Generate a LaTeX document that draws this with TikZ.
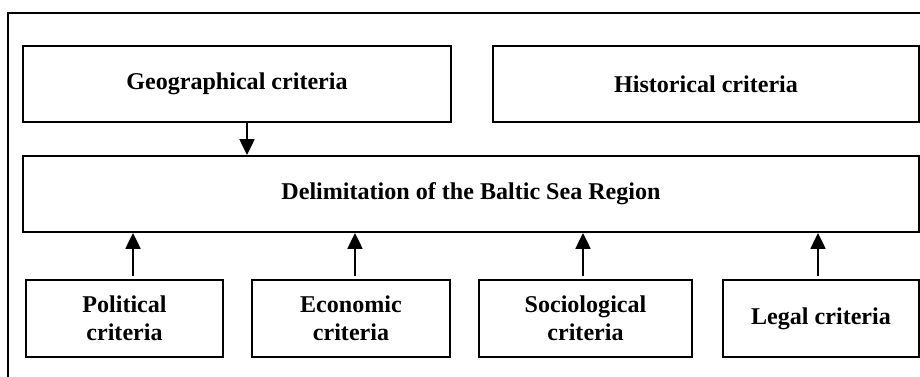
\documentclass[tikz,border=0pt]{standalone}
\usepackage{fontspec}
\setmainfont{Liberation Serif}
\usepackage{tikz}
\usetikzlibrary{arrows.meta}

\tikzset{
  crit/.style={draw, line width=1.1pt, inner sep=0pt, align=center,
    font=\fontsize{13.7}{16}\selectfont\bfseries},
  toarrow/.style={line width=1.1pt, -{Triangle[width=8.5pt,length=9pt]}}
}

\begin{document}
\begin{tikzpicture}[x=0.02cm, y=-0.02cm]
        \useasboundingbox (0, 0) rectangle (920, 376);
        % outer frame
        \draw [line width=1.6pt] (8, 380) -- (8, 13) -- (925, 13);
        % upper row
        \node [crit, minimum width=428*0.02cm, minimum height=76*0.02cm] (geo) at (237, 84) {Geographical criteria};
        \node [crit, minimum width=426*0.02cm, minimum height=76*0.02cm] (hist) at (706, 84) {Historical criteria};
        % middle box
        \node [crit, minimum width=896*0.02cm, minimum height=76*0.02cm] (delim) at (471, 194) {Delimitation of the Baltic Sea Region};
        % lower row
        \node [crit, minimum width=197*0.02cm, minimum height=77*0.02cm] (pol) at (124.5, 318.5) {Political\\criteria};
        \node [crit, minimum width=198*0.02cm, minimum height=77*0.02cm] (eco) at (351, 318.5) {Economic\\criteria};
        \node [crit, minimum width=213*0.02cm, minimum height=77*0.02cm] (soc) at (585.5, 318.5) {Sociological\\criteria};
        \node [crit, minimum width=196*0.02cm, minimum height=77*0.02cm] (leg) at (821, 318.5) {Legal criteria};
        % arrows
        \coordinate (g0) at ([xshift=10*0.02cm] geo.south);
        \coordinate (p0) at ([xshift=8.5*0.02cm, yshift=3*0.02cm] pol.north);
        \coordinate (e0) at ([xshift=4*0.02cm, yshift=3*0.02cm] eco.north);
        \coordinate (s0) at ([xshift=-2.5*0.02cm, yshift=3*0.02cm] soc.north);
        \coordinate (l0) at ([xshift=-3*0.02cm, yshift=3*0.02cm] leg.north);
        \draw [toarrow] (g0) -- (g0 |- delim.north);
        \draw [toarrow] (p0) -- (p0 |- delim.south);
        \draw [toarrow] (e0) -- (e0 |- delim.south);
        \draw [toarrow] (s0) -- (s0 |- delim.south);
        \draw [toarrow] (l0) -- (l0 |- delim.south);
      \end{tikzpicture}
\end{document}
